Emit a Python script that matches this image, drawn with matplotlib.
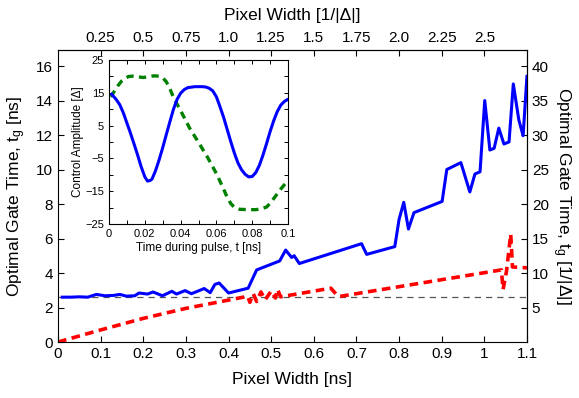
import matplotlib
matplotlib.use('Agg')
import matplotlib.pyplot as plt
from matplotlib.ticker import MultipleLocator, FixedLocator

plt.rcParams['font.family'] = ['Liberation Sans', 'DejaVu Sans']
plt.rcParams['mathtext.fontset'] = 'custom'
plt.rcParams['mathtext.rm'] = 'Liberation Sans'
plt.rcParams['mathtext.it'] = 'Liberation Sans:italic'

# main panel: optimal gate time vs pixel width
width_blue = [0.01, 0.03, 0.05, 0.07, 0.09, 0.11, 0.13, 0.145, 0.16, 0.18, 0.19, 0.21,
              0.223, 0.245, 0.267, 0.278, 0.298, 0.313, 0.343, 0.357, 0.368, 0.378, 0.40,
              0.446, 0.466, 0.52, 0.534, 0.548, 0.554, 0.566, 0.712, 0.724, 0.79, 0.80,
              0.811, 0.822, 0.835, 0.901, 0.912, 0.945, 0.966, 0.978, 0.99, 1.001, 1.013,
              1.023, 1.034, 1.046, 1.058, 1.068, 1.081, 1.091, 1.1]
gate_blue = [2.6, 2.6, 2.62, 2.6, 2.76, 2.68, 2.7, 2.76, 2.66, 2.68, 2.84, 2.78,
             2.9, 2.68, 2.94, 2.78, 2.98, 2.8, 3.1, 2.86, 3.34, 3.42, 2.84,
             3.12, 4.18, 4.7, 5.33, 4.9, 5.0, 4.55, 5.7, 5.08, 5.53, 7.1,
             8.1, 6.55, 7.5, 8.15, 10.0, 10.4, 8.7, 9.74, 9.87, 14.0, 11.13,
             11.23, 12.4, 11.48, 11.6, 14.96, 12.87, 11.96, 15.4]

width_red = [0.0, 0.1, 0.2, 0.3, 0.4, 0.445, 0.45, 0.458, 0.466, 0.476, 0.486, 0.5,
             0.51, 0.515, 0.522, 0.64, 0.655, 0.66, 1.04, 1.044, 1.052, 1.062, 1.066, 1.1]
gate_red = [0.0, 0.7, 1.37, 1.95, 2.43, 2.65, 2.3, 2.8, 2.35, 2.9, 2.45, 2.95,
            2.55, 3.05, 2.62, 3.12, 2.7, 2.64, 4.18, 3.05, 4.1, 6.25, 4.35, 4.3]

gate_floor = 2.6

# inset: control pulses
t_blue = [0.0015, 0.004, 0.006, 0.008, 0.010, 0.012, 0.014, 0.016, 0.018, 0.020, 0.0215,
          0.023, 0.024, 0.026, 0.028, 0.030, 0.032, 0.034, 0.036, 0.038, 0.040, 0.042,
          0.044, 0.048, 0.052, 0.054, 0.056, 0.058, 0.060, 0.062, 0.064, 0.066, 0.068,
          0.070, 0.072, 0.074, 0.076, 0.078, 0.080, 0.082, 0.084, 0.086, 0.088, 0.090,
          0.092, 0.094, 0.096, 0.098, 0.0995]
amp_blue = [14.6, 13.0, 11.4, 8.9, 5.8, 2.7, -0.6, -4.0, -7.6, -10.6, -11.9,
            -11.7, -11.3, -8.7, -5.4, -1.7, 2.3, 6.2, 10.0, 13.0, 14.9, 16.0,
            16.6, 16.9, 16.9, 16.8, 16.4, 15.6, 13.8, 10.8, 7.6, 3.9, 0.2,
            -3.3, -6.3, -8.4, -9.8, -10.6, -10.5, -9.3, -7.1, -4.0, -0.5, 3.2,
            6.5, 9.3, 11.3, 12.4, 12.9]

t_green = [0.0009, 0.003, 0.005, 0.007, 0.009, 0.011, 0.013, 0.016, 0.019, 0.022, 0.025,
           0.028, 0.030, 0.032, 0.034, 0.036, 0.040, 0.045, 0.050, 0.055, 0.060, 0.063,
           0.066, 0.068, 0.070, 0.073, 0.078, 0.082, 0.085, 0.088, 0.090, 0.093, 0.096,
           0.0995]
amp_green = [13.8, 15.5, 17.2, 18.6, 19.5, 20.0, 20.1, 19.9, 19.7, 19.9, 20.2,
             20.1, 19.6, 18.4, 16.3, 13.6, 9.6, 4.3, -0.1, -4.6, -9.6, -13.1,
             -16.8, -18.7, -19.9, -20.5, -20.6, -20.6, -20.4, -19.8, -18.7, -16.5, -14.3,
             -12.0]

fig = plt.figure(figsize=(5.79, 3.98), dpi=100)
ax = fig.add_axes([0.1002, 0.1407, 0.8099, 0.7337])

ax.axhline(gate_floor, color='#555555', lw=0.9, dashes=(5, 4))
ax.plot(width_red, gate_red, color='red', lw=2.6, dashes=(2.4, 1.5))
ax.plot(width_blue, gate_blue, color='blue', lw=2.2)

ax.set_xlim(0, 1.1)
ax.set_ylim(0, 16.93)
ax.set_xticks([0, 0.1, 0.2, 0.3, 0.4, 0.5, 0.6, 0.7, 0.8, 0.9, 1, 1.1])
ax.set_xticklabels(['0', '0.1', '0.2', '0.3', '0.4', '0.5', '0.6', '0.7', '0.8', '0.9', '1', '1.1'])
ax.set_yticks(range(0, 17, 2))
ax.tick_params(direction='in', labelsize=11, length=4, width=0.8, top=False, right=False)
ax.set_xlabel('Pixel Width [ns]', fontsize=12.5, labelpad=8)
ax.set_ylabel('Optimal Gate Time, t$_\\mathrm{g}$ [ns]', fontsize=12.5, labelpad=6)

ax_top = ax.secondary_xaxis('top', functions=(lambda x: x * 2.5, lambda x: x / 2.5))
ax_top.set_xticks([0.25, 0.5, 0.75, 1.0, 1.25, 1.5, 1.75, 2.0, 2.25, 2.5])
ax_top.set_xticklabels(['0.25', '0.5', '0.75', '1.0', '1.25', '1.5', '1.75', '2.0', '2.25', '2.5'])
ax_top.tick_params(direction='in', labelsize=11, length=4, width=0.8)
ax_top.set_xlabel('Pixel Width [1/|\u0394|]', fontsize=12.5, labelpad=8)

ax_right = ax.secondary_yaxis('right', functions=(lambda y: y * 2.5, lambda y: y / 2.5))
ax_right.set_yticks(range(5, 41, 5))
ax_right.tick_params(direction='in', labelsize=11, length=4, width=0.8)
ax_right.set_ylabel('Optimal Gate Time, t$_\\mathrm{g}$ [1/|\u0394|]', fontsize=12.5,
                    rotation=-90, labelpad=17)

ins = fig.add_axes([0.1883, 0.437, 0.3091, 0.412])
ins.plot(t_green, amp_green, color='green', lw=2.4, dashes=(2.2, 1.6))
ins.plot(t_blue, amp_blue, color='blue', lw=2.2)
ins.set_xlim(0, 0.1)
ins.set_ylim(-25, 25)
ins.set_xticks([0, 0.02, 0.04, 0.06, 0.08, 0.1])
ins.set_xticklabels(['0', '0.02', '0.04', '0.06', '0.08', '0.1'])
ins.set_yticks([-25, -15, -5, 5, 15, 25])
ins.set_yticklabels(['\u221225', '\u221215', '\u22125', '5', '15', '25'])
ins.xaxis.set_minor_locator(MultipleLocator(0.01))
ins.yaxis.set_minor_locator(FixedLocator([-20, -10, 0, 10, 20]))
ins.tick_params(which='both', direction='in', labelsize=8, length=3, width=0.7,
                top=True, right=True)
ins.set_xlabel('Time during pulse, t [ns]', fontsize=8.5, labelpad=2)
ins.set_ylabel('Control Amplitude [\u0394]', fontsize=8.5, labelpad=1)

fig.savefig('out.png', dpi=100)
